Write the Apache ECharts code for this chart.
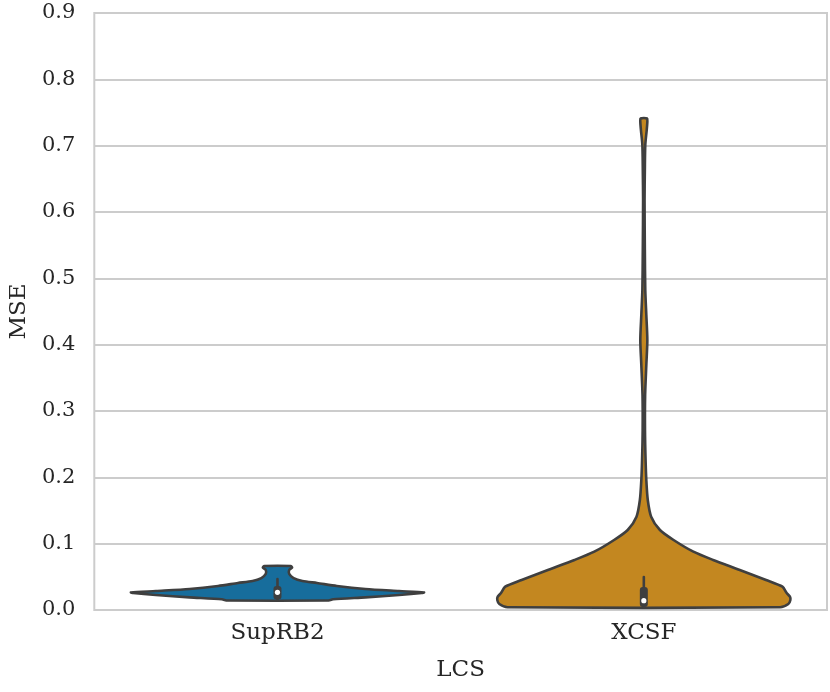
<!DOCTYPE html>
<html>
<head>
<meta charset="utf-8">
<script src="https://cdn.jsdelivr.net/npm/echarts@6/dist/echarts.min.js"></script>
<style>html,body{margin:0;padding:0;background:#fff}#c{width:830px;height:692px}</style>
</head>
<body>
<div id="c"></div>
<script>
// Categories
var categories = ['SupRB2', 'XCSF'];
var colors = ['#176d9c', '#c38720'];
var yTicks = [0.0, 0.1, 0.2, 0.3, 0.4, 0.5, 0.6, 0.7, 0.8, 0.9];

// Violin density profiles (MSE level, relative half-width; 1 = widest)
var suprbY = [0.0143, 0.0161, 0.0191, 0.0226, 0.0256, 0.0264, 0.0286, 0.0317, 0.0362, 0.0407, 0.0437, 0.0482, 0.0543, 0.0603, 0.0641, 0.0663];
var suprbW = [0.34, 0.38, 0.60, 0.83, 0.985, 1.0, 0.83, 0.60, 0.405, 0.27, 0.17, 0.11, 0.08, 0.08, 0.10, 0.09];

var xcsfY = [0.0041, 0.009, 0.0151, 0.0201, 0.0256, 0.0351, 0.0452, 0.0603, 0.0754, 0.0879, 0.1055, 0.1206, 0.1407, 0.1658, 0.196, 0.226, 0.271, 0.324, 0.369, 0.407, 0.445, 0.482, 0.543, 0.618, 0.663, 0.701, 0.724, 0.736, 0.741];
var xcsfW = [0.93, 0.986, 1.0, 0.997, 0.975, 0.946, 0.834, 0.655, 0.473, 0.338, 0.203, 0.11, 0.05, 0.027, 0.017, 0.012, 0.008, 0.009, 0.017, 0.024, 0.017, 0.010, 0.007, 0.005, 0.007, 0.010, 0.020, 0.024, 0.022];

// Inner box statistics: [whiskerLow, q1, median, q3, whiskerHigh]
var suprbBox = [0.0143, 0.016, 0.0266, 0.036, 0.0467];
var xcsfBox = [0.0041, 0.0045, 0.014, 0.0347, 0.0497];

var profilesY = [suprbY, xcsfY];
var profilesW = [suprbW, xcsfW];
var boxes = [suprbBox, xcsfBox];

var chart = echarts.init(document.getElementById('c'), null, {renderer: 'canvas'});

function renderViolin(params, api) {
  var idx = api.value(0);
  var ys = profilesY[idx], ws = profilesW[idx];
  var band = api.size([1, 0])[0];
  var maxHalf = band * 0.4;
  var cx = api.coord([idx, 0])[0];
  var right = [], left = [];
  for (var i = 0; i < ys.length; i++) {
    var py = api.coord([idx, ys[i]])[1];
    var hw = Math.max(ws[i] * maxHalf, 0.6);
    right.push([cx + hw, py]);
    left.unshift([cx - hw, py]);
  }
  var pts = right.concat(left);
  var b = boxes[idx];
  var wl = api.coord([idx, b[0]])[1];
  var q1 = api.coord([idx, b[1]])[1];
  var md = api.coord([idx, b[2]])[1];
  var q3 = api.coord([idx, b[3]])[1];
  var wh = api.coord([idx, b[4]])[1];
  return {
    type: 'group',
    children: [
      {type: 'polygon', shape: {points: pts, smooth: 0.25},
       style: {fill: colors[idx], stroke: '#3f3f3f', lineWidth: 2.6, lineJoin: 'round'}},
      {type: 'line', shape: {x1: cx, y1: wl, x2: cx, y2: wh},
       style: {stroke: '#3f3f3f', lineWidth: 2.6, lineCap: 'round'}},
      {type: 'rect', shape: {x: cx - 4, y: q3, width: 8, height: q1 - q3, r: 3},
       style: {fill: '#3f3f3f'}},
      {type: 'circle', shape: {cx: cx, cy: md, r: 2.6},
       style: {fill: '#ffffff'}}
    ]
  };
}

var option = {
  animation: false,
  backgroundColor: '#ffffff',
  grid: {left: 92, right: 3, top: 13, bottom: 82, show: true, borderColor: '#cccccc', borderWidth: 2, backgroundColor: 'transparent'},
  xAxis: {
    type: 'category',
    data: categories,
    boundaryGap: true,
    axisLine: {show: false},
    axisTick: {show: false},
    axisLabel: {color: '#262626', fontFamily: 'DejaVu Serif', fontSize: 23, margin: 12},
    name: 'LCS',
    nameLocation: 'middle',
    nameGap: 49,
    nameTextStyle: {color: '#262626', fontFamily: 'DejaVu Serif', fontSize: 23}
  },
  yAxis: {
    type: 'value',
    min: yTicks[0],
    max: yTicks[yTicks.length - 1],
    interval: 0.1,
    axisLine: {show: false},
    axisTick: {show: false},
    axisLabel: {color: '#262626', fontFamily: 'DejaVu Serif', fontSize: 21, margin: 19,
      formatter: function (v) { return v.toFixed(1); }},
    splitLine: {lineStyle: {color: '#cccccc', width: 2}},
    name: 'MSE',
    nameLocation: 'middle',
    nameGap: 56,
    nameTextStyle: {color: '#262626', fontFamily: 'DejaVu Serif', fontSize: 23}
  },
  series: [{
    type: 'custom',
    renderItem: renderViolin,
    data: [[0], [1]],
    encode: {x: 0},
    clip: false
  }]
};
chart.setOption(option);
</script>
</body>
</html>
